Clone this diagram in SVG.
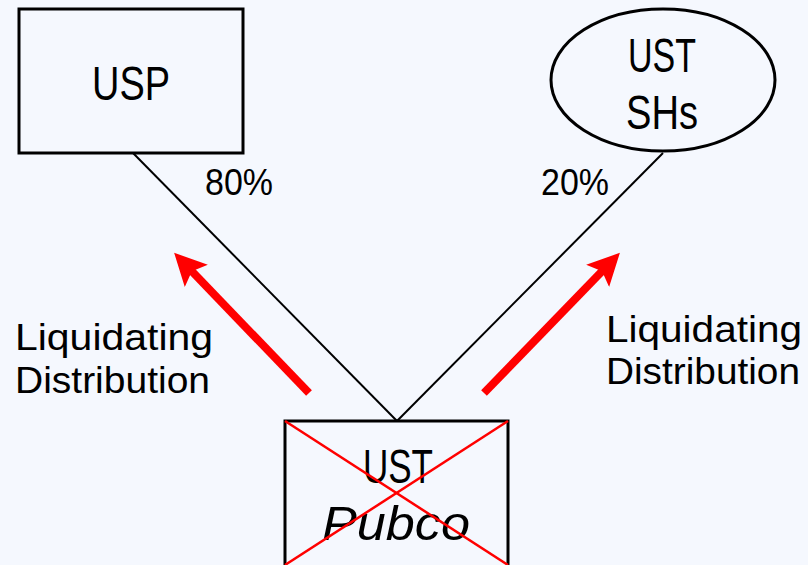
<svg xmlns="http://www.w3.org/2000/svg" width="808" height="565" viewBox="0 0 808 565">
<defs>
<style>
.box{fill:none;stroke:#000;stroke-width:3}
.t{font-family:"Liberation Sans",Arial,sans-serif;fill:#000}
.big{font-size:48px}
.mid{font-size:37px}
.conn{stroke:#000;stroke-width:2;fill:none}
.red{stroke:#ff0000;stroke-width:8;fill:none}
.x{stroke:#ff0000;stroke-width:2.5;fill:none}
</style>
<marker id="ah" viewBox="0 0 10 10" refX="6" refY="5" markerWidth="4" markerHeight="4" orient="auto" markerUnits="strokeWidth">
<path d="M0,0 L10,5 L0,10 L2,5 z" fill="#ff0000"/>
</marker>
</defs>
<rect width="808" height="565" fill="#f5f8fe"/>
<g id="connectors">
<line class="conn" x1="133" y1="153" x2="397" y2="421"/>
<line class="conn" x1="663" y1="153" x2="397" y2="421"/>
<line class="red" x1="309" y1="393" x2="183" y2="262" marker-end="url(#ah)"/>
<line class="red" x1="484" y1="393" x2="611" y2="262" marker-end="url(#ah)"/>
</g>
<g id="usp">
<rect class="box" x="19" y="9" width="224" height="144"/>
<text class="t big" x="92" y="100" textLength="78" lengthAdjust="spacingAndGlyphs">USP</text>
</g>
<g id="ust-shs">
<ellipse class="box" cx="663" cy="80" rx="112" ry="71"/>
<text class="t big" x="628" y="72" textLength="68" lengthAdjust="spacingAndGlyphs">UST</text>
<text class="t big" x="626" y="129" textLength="72" lengthAdjust="spacingAndGlyphs">SHs</text>
</g>
<g id="pubco">
<rect class="box" x="285" y="421" width="223" height="150"/>
<text class="t big" x="363" y="483" textLength="70" lengthAdjust="spacingAndGlyphs">UST</text>
<text class="t big" x="322" y="540" font-style="italic" textLength="148" lengthAdjust="spacingAndGlyphs">Pubco</text>
<line class="x" x1="285" y1="421" x2="508" y2="565"/>
<line class="x" x1="508" y1="421" x2="285" y2="565"/>
</g>
<g id="labels">
<text class="t mid" x="205" y="195" textLength="68" lengthAdjust="spacingAndGlyphs">80%</text>
<text class="t mid" x="541" y="195" textLength="68" lengthAdjust="spacingAndGlyphs">20%</text>
<text class="t mid" x="15" y="350" textLength="198" lengthAdjust="spacingAndGlyphs">Liquidating</text>
<text class="t mid" x="15" y="393" textLength="195" lengthAdjust="spacingAndGlyphs">Distribution</text>
<text class="t mid" x="606" y="342" textLength="196" lengthAdjust="spacingAndGlyphs">Liquidating</text>
<text class="t mid" x="606" y="384" textLength="194" lengthAdjust="spacingAndGlyphs">Distribution</text>
</g>
</svg>
